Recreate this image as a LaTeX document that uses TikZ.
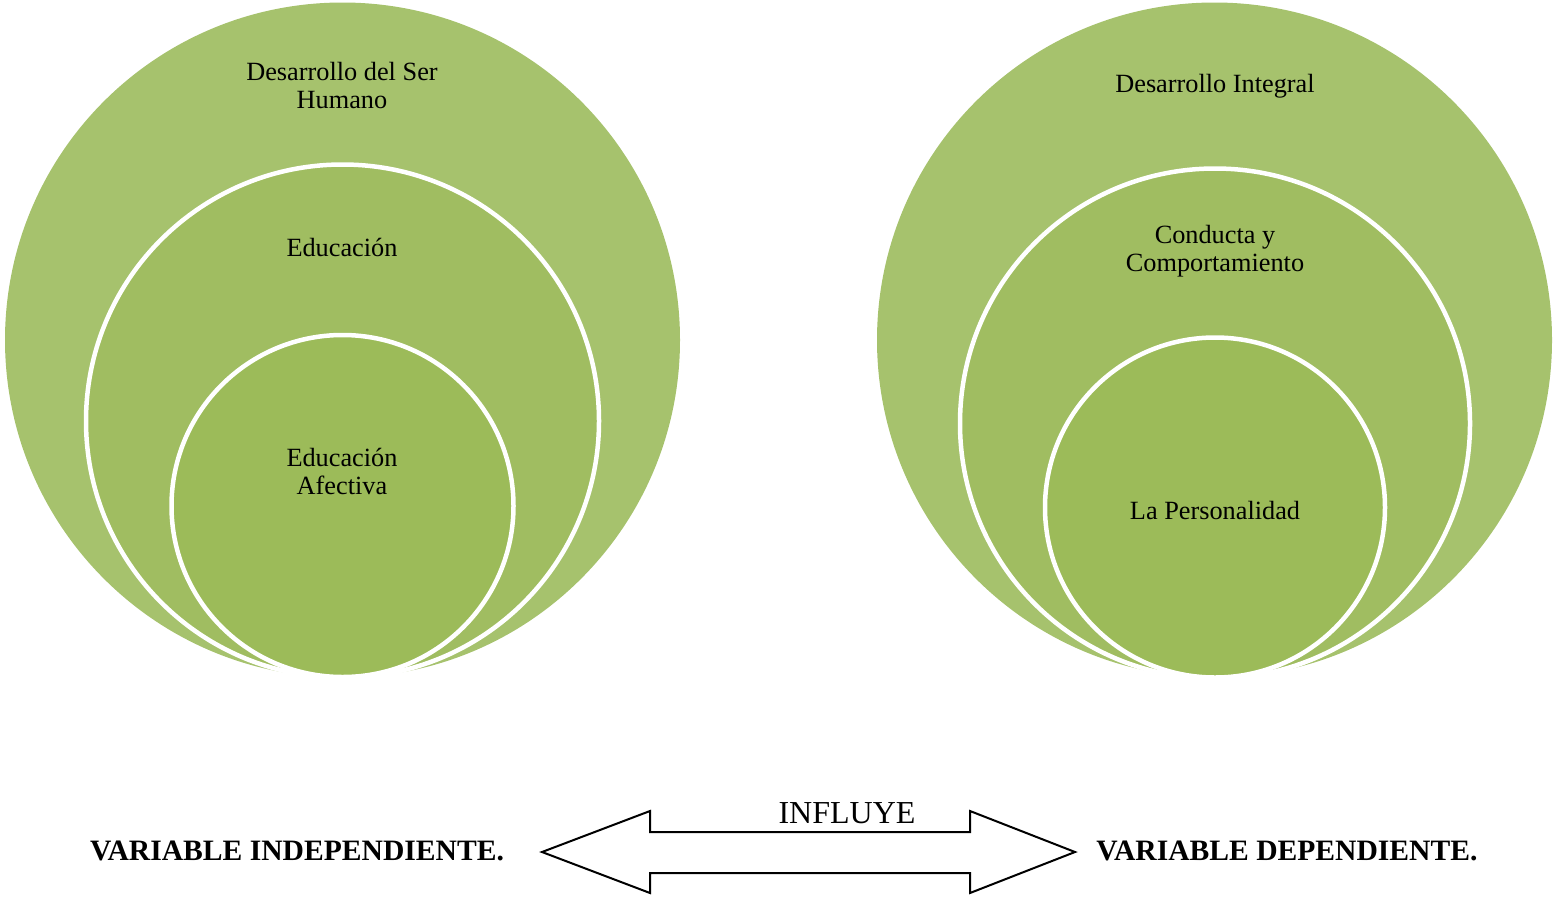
\documentclass[tikz,border=0pt]{standalone}
\usepackage{fontspec}
\setmainfont{Liberation Serif}
\definecolor{gOuter}{HTML}{A6C26D}
\definecolor{gMid}{HTML}{A0BD61}
\definecolor{gIn}{HTML}{9CBB59}
\tikzset{
  ring/.style={draw=white,line width=4.5pt},
  ctext/.style={align=center,font=\fontsize{26.3}{28}\selectfont,inner sep=0pt},
  vlabel/.style={font=\fontsize{29.6}{32}\selectfont\bfseries,inner sep=0pt},
  arrowbox/.style={draw=black,fill=white,line width=2pt,line join=miter}
}
\begin{document}
\begin{tikzpicture}[x=1pt,y=-1pt]
\useasboundingbox (0,0) rectangle (1555,898);
% left circles
\fill[gOuter] (342.5,340) circle[radius=337.5pt];
\filldraw[fill=gMid,ring] (342.5,421) circle[radius=256.5pt];
\filldraw[fill=gIn,ring] (342.5,506) circle[radius=171pt];
% right circles
\fill[gOuter] (1214.5,340) circle[radius=337.5pt];
\filldraw[fill=gMid,ring] (1215,423.5) circle[radius=255pt];
\filldraw[fill=gIn,ring] (1215,507.5) circle[radius=170pt];
% texts
\node[ctext] (t1) at (342,85) {Desarrollo del Ser\\Humano};
\node[ctext] (t2) at (342,247) {Educación};
\node[ctext] (t3) at (342,471) {Educación\\Afectiva};
\node[ctext] (t4) at (1215,86) {Desarrollo Integral};
\node[ctext] (t5) at (1215,251) {Conducta y\\Comportamiento};
\node[ctext] (t6) at (1215,510) {La Personalidad};
% arrow
\draw[arrowbox] (542,852) -- (650,811) -- (650,832) -- (970,832) -- (970,811)
  -- (1075,852) -- (970,893) -- (970,873) -- (650,873) -- (650,893) -- cycle;
\node[font=\fontsize{32}{34}\selectfont,anchor=base,inner sep=0pt] (inf) at (847,823) {INFLUYE};
\node[vlabel] (vi) at (297,851) {VARIABLE INDEPENDIENTE.};
\node[vlabel] (vd) at (1287,851) {VARIABLE DEPENDIENTE.};
\end{tikzpicture}
\end{document}
